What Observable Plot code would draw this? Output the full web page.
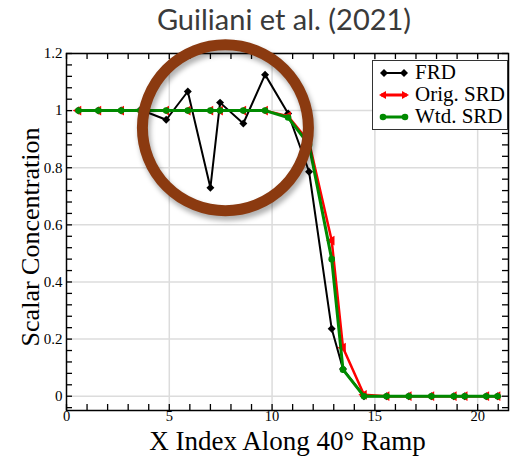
<!DOCTYPE html>
<html>
<head>
<meta charset="utf-8">
<script src="https://cdn.jsdelivr.net/npm/d3@7"></script>
<script src="https://cdn.jsdelivr.net/npm/@observablehq/plot@0.6"></script>
<style>
  html, body { margin: 0; padding: 0; background: #fff; }
  #wrap { position: relative; width: 510px; height: 456px; overflow: hidden; }
  #title { position: absolute; left: 284px; top: 1px; transform: translateX(-50%); white-space: nowrap;
           font-family: Lato, "Open Sans", sans-serif; font-size: 29px; color: #3a3a3a; z-index: 2; }
  #chart { position: absolute; left: 0; top: 0; }
  #legend { position: absolute; left: 372px; top: 60px; width: 134px; height: 68px; background: #fff;
            border: 1.5px solid #333; font-family: "Liberation Serif", serif; font-size: 21px; }
  .row { display: flex; align-items: center; height: 21px; margin-top: 1px; }
  .row svg { margin-left: 4px; margin-right: 4px; }
</style>
</head>
<body>
<div id="wrap">
  <div id="chart"></div>
  <div id="title">Guiliani et al. (2021)</div>
  <div id="legend"></div>
</div>
<script>
// ---- data ----
const xIndex = [0.58, 1.55, 2.66, 3.6, 4.85, 5.9, 7.0, 7.47, 8.6, 9.66, 10.78, 11.8, 12.9, 13.45, 14.47, 15.57, 16.65, 17.75, 18.84, 19.37, 20.42, 20.97];
const frd    = [1, 1, 1, 1.003, 0.968, 1.067, 0.73, 1.028, 0.955, 1.126, 0.99, 0.786, 0.236, 0.095, 0, 0, 0, 0, 0, 0, 0, 0];
const orig   = [1, 1, 1, 1, 1, 1, 1, 1, 1, 1, 0.98, 0.89, 0.545, 0.17, 0.005, 0, 0, 0, 0, 0, 0, 0];
const wtd    = [1, 1, 1, 1, 1, 1, 1, 1, 1, 1, 0.976, 0.88, 0.48, 0.093, 0, 0, 0, 0, 0, 0, 0, 0];
const seriesNames = ["FRD", "Orig. SRD", "Wtd. SRD"];
const xMajor = [0, 5, 10, 15, 20];
const yMajor = [0, 0.2, 0.4, 0.6, 0.8, 1, 1.2];
const highlight = [{x: 7.73, y: 0.94}];

const colors = {"FRD": "#000000", "Orig. SRD": "#ff0000", "Wtd. SRD": "#008a00"};
const rows = (vals, s) => xIndex.map((x, i) => ({x, y: vals[i], s}));
const dFRD = rows(frd, "FRD"), dOrig = rows(orig, "Orig. SRD"), dWtd = rows(wtd, "Wtd. SRD");

const xMinor = d3.range(0, 22, 1);
const yMinor = d3.range(-0.04, 1.2001, 0.04);
const W = 510, H = 456, mL = 66, mR = 2, mT = 53, mB = 46;
const pw = W - mL - mR, ph = H - mT - mB;

const chart = Plot.plot({
  width: W, height: H, marginLeft: mL, marginRight: mR, marginTop: mT, marginBottom: mB,
  style: {fontFamily: "'Liberation Serif', serif", background: "transparent", overflow: "visible"},
  x: {domain: [0, 21.5]},
  y: {domain: [-0.05, 1.2]},
  marks: [
    Plot.gridX(xMajor.filter(d => d > 0), {stroke: "#dcdcdc", strokeOpacity: 1, strokeWidth: 1.5}),
    Plot.gridY(yMajor, {stroke: "#dcdcdc", strokeOpacity: 1, strokeWidth: 1.5}),
    Plot.tickX(xMinor, {x: d => d, insetTop: ph - 6, stroke: "#000", strokeWidth: 1.3}),
    Plot.tickX(xMinor, {x: d => d, insetBottom: ph - 6, stroke: "#000", strokeWidth: 1.3}),
    Plot.tickY(yMinor, {y: d => d, insetRight: pw - 6, stroke: "#000", strokeWidth: 1.3}),
    Plot.tickY(yMinor, {y: d => d, insetLeft: pw - 6, stroke: "#000", strokeWidth: 1.3}),
    Plot.axisX({ticks: xMajor, tickSize: 0, tickPadding: 0, fontSize: 14.5, tickFormat: d => String(d), label: null}),
    Plot.axisY({ticks: yMajor, tickSize: 0, tickPadding: 4, fontSize: 15, tickFormat: d => String(+d.toFixed(1)), label: null}),
    Plot.frame({stroke: "#000", strokeWidth: 1.5}),
    // series
    Plot.line(dFRD, {x: "x", y: "y", stroke: colors["FRD"], strokeWidth: 2}),
    Plot.dot(dFRD, {x: "x", y: "y", symbol: "diamond2", r: 3.6, fill: colors["FRD"]}),
    Plot.line(dOrig, {x: "x", y: "y", stroke: colors["Orig. SRD"], strokeWidth: 2.5}),
    Plot.dot(dOrig, {x: "x", y: "y", symbol: "triangle", rotate: -90, r: 3.6, fill: colors["Orig. SRD"]}),
    Plot.line(dWtd, {x: "x", y: "y", stroke: colors["Wtd. SRD"], strokeWidth: 3}),
    Plot.dot(dWtd, {x: "x", y: "y", r: 3.3, fill: colors["Wtd. SRD"]}),
    // highlight ring with shadow
    Plot.dot(highlight, {x: "x", y: "y", r: 83, stroke: "#000", strokeOpacity: 0.3, strokeWidth: 12, dx: 2, dy: 4, className: "ringshadow"}),
    Plot.dot(highlight, {x: "x", y: "y", r: 83, stroke: "#8b3a10", strokeWidth: 11}),
    // axis titles
    Plot.text(["Scalar Concentration"], {frameAnchor: "left", textAnchor: "middle", dx: -36, dy: 5, rotate: -90, fontSize: 26, fill: "#000"}),
    Plot.text(["X Index Along 40\u00b0 Ramp"], {frameAnchor: "bottom", textAnchor: "middle", dy: 31, lineAnchor: "middle", fontSize: 27, fill: "#000"})
  ]
});
chart.querySelectorAll(".ringshadow").forEach(g => g.style.filter = "blur(2.5px)");
document.getElementById("chart").appendChild(chart);

// legend
const legend = document.getElementById("legend");
const markerSvg = {
  "FRD": '<path d="M3 6 L7 2 L11 6 L7 10 Z M23 6 L27 2 L31 6 L27 10 Z" fill="#000"/>',
  "Orig. SRD": '<path d="M2 6 L9 2 L9 10 Z M25 2 L32 6 L25 10 Z" fill="#ff0000"/>',
  "Wtd. SRD": '<circle cx="6" cy="6" r="3.3" fill="#008a00"/><circle cx="28" cy="6" r="3.3" fill="#008a00"/>'
};
seriesNames.forEach(s => {
  const row = document.createElement("div");
  row.className = "row";
  row.innerHTML = `<svg width="34" height="12"><line x1="4" y1="6" x2="30" y2="6" stroke="${colors[s]}" stroke-width="${s === "FRD" ? 2 : 3}"/>${markerSvg[s]}</svg><span>${s}</span>`;
  legend.appendChild(row);
});
</script>
</body>
</html>
